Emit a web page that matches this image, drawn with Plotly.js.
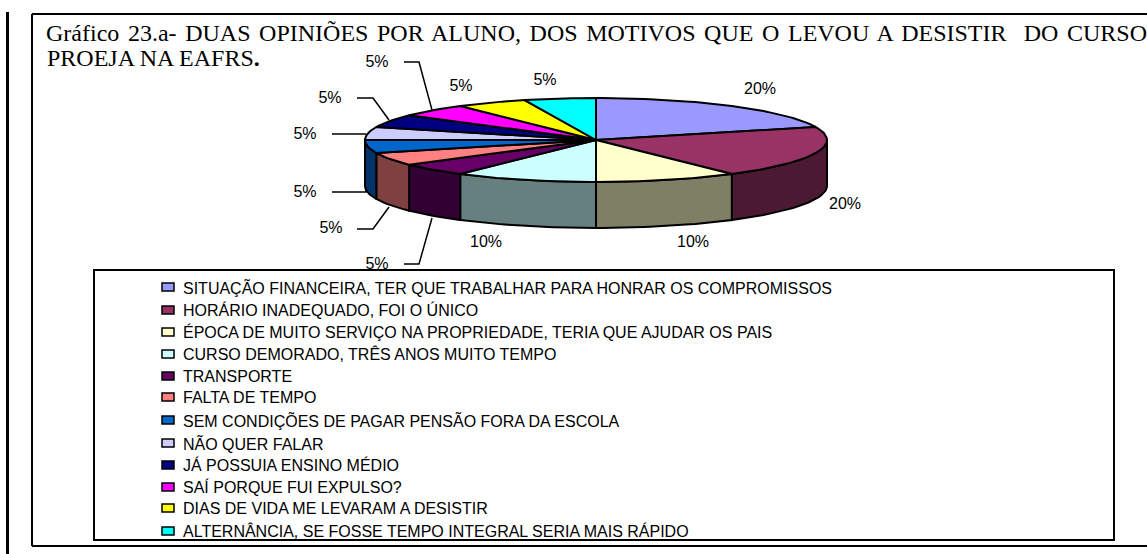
<!DOCTYPE html>
<html><head><meta charset="utf-8">
<script src="https://cdn.plot.ly/plotly-3.0.1.min.js"></script>
<style>html,body{margin:0;padding:0;background:#fff;overflow:hidden}
.gtitle{word-spacing:2.6px}</style>
</head><body><div id="chart" style="width:1147px;height:554px"></div>
<script>
var categories = [
 "SITUAÇÃO FINANCEIRA, TER QUE TRABALHAR PARA HONRAR OS COMPROMISSOS",
 "HORÁRIO INADEQUADO, FOI O ÚNICO",
 "ÉPOCA DE MUITO SERVIÇO NA PROPRIEDADE, TERIA QUE AJUDAR OS PAIS",
 "CURSO DEMORADO, TRÊS ANOS MUITO TEMPO",
 "TRANSPORTE",
 "FALTA DE TEMPO",
 "SEM CONDIÇÕES DE PAGAR PENSÃO FORA DA ESCOLA",
 "NÃO QUER FALAR",
 "JÁ POSSUIA ENSINO MÉDIO",
 "SAÍ PORQUE FUI EXPULSO?",
 "DIAS DE VIDA ME LEVARAM A DESISTIR",
 "ALTERNÂNCIA, SE FOSSE TEMPO INTEGRAL SERIA MAIS RÁPIDO"
];
var values = [20,20,10,10,5,5,5,5,5,5,5,5];
var colors = ["#9999FF","#993366","#FFFFCC","#CCFFFF","#660066","#FF8080","#0066CC","#CCCCFF","#000080","#FF00FF","#FFFF00","#00FFFF"];
var labelX = [760,845,693,486,377,331,305,305,330,377,461,545];
var labelY = [90,205,243,243,265,229,193,135,99,63,87,81];
var legendRowY = [287,310,332,354,376,397,420,443,465,487,508,531];

var cx=596, cy=140, rx=231, ry=42, depth=46;
function px(a){return cx+rx*Math.sin(a*Math.PI/180);}
function py(a){return cy-ry*Math.cos(a*Math.PI/180);}
function dark(c){var n=parseInt(c.slice(1),16);
  return 'rgb('+((n>>16&255)>>1)+','+((n>>8&255)>>1)+','+((n&255)>>1)+')';}
function arc(a0,a1){var out=[],n=Math.max(2,Math.ceil((a1-a0)/1.5));
  for(var i=0;i<=n;i++)out.push(a0+(a1-a0)*i/n);return out;}

var total=values.reduce(function(s,v){return s+v;},0), run=0, traces=[], tops=[];
values.forEach(function(v,i){
  var a0=run/total*360, a1=(run+v)/total*360; run+=v;
  var w0=Math.max(a0,90), w1=Math.min(a1,270);
  if(w1>w0){
    var as=arc(w0,w1), xs=as.map(px), ys=as.map(py);
    var rev=as.slice().reverse();
    traces.push({type:'scatter',mode:'lines',fill:'toself',fillcolor:dark(colors[i]),
      x:xs.concat(rev.map(px),[xs[0]]),
      y:ys.concat(rev.map(function(a){return py(a)+depth;}),[ys[0]]),
      line:{color:'#000',width:2},hoverinfo:'skip',showlegend:false});
  }
  var t=arc(a0,a1);
  tops.push({type:'scatter',mode:'lines',fill:'toself',fillcolor:colors[i],name:categories[i],
    x:[cx].concat(t.map(px),[cx]), y:[cy].concat(t.map(py),[cy]),
    line:{color:'#000',width:2},showlegend:false,hoverinfo:'name'});
});
traces=traces.concat(tops);
traces.push({type:'scatter',mode:'text',x:labelX,y:labelY,
  text:values.map(function(v){return v+'%';}),textposition:'middle center',
  textfont:{family:'"Liberation Sans",Arial,sans-serif',size:16,color:'#000'},
  hoverinfo:'skip',showlegend:false,cliponaxis:false});

function line(x0,y0,x1,y1,w){return {type:'line',xref:'x',yref:'y',x0:x0,y0:y0,x1:x1,y1:y1,layer:'above',line:{color:'#000',width:w||2}};}
function leader(p){return {type:'path',xref:'x',yref:'y',path:p,layer:'above',line:{color:'#000',width:1.5}};}
var shapes=[
  line(7.5,12,7.5,554,3),
  line(32,14,1147,14,2), line(32,14,32,546,2), line(32,546,1147,546,2),
  leader('M404,62 L419,62 L432,110'),
  leader('M357,98 L373,98 L389,120'),
  leader('M332,134 L366,134'),
  leader('M332,192 L366,192 L366,189'),
  leader('M357,229 L373,229 L389,207'),
  leader('M404,264 L419,264 L432,218'),
  {type:'rect',xref:'x',yref:'y',x0:94,y0:270,x1:1114,y1:540,layer:'above',fillcolor:'#fff',line:{color:'#000',width:2}}
];
var annotations=[{xref:'x',yref:'y',x:45,y:58,xanchor:'left',yanchor:'middle',showarrow:false,align:'left',
  text:'PROEJA NA EAFRS<b>.</b>',font:{family:'"Liberation Serif","Times New Roman",serif',size:24,color:'#000'}}];
categories.forEach(function(c,i){
  var y=legendRowY[i];
  shapes.push({type:'rect',xref:'x',yref:'y',x0:162,x1:174,y0:y-4,y1:y+4,layer:'above',fillcolor:colors[i],line:{color:'#000',width:1.5}});
  annotations.push({xref:'x',yref:'y',x:181,y:y,xanchor:'left',yanchor:'middle',showarrow:false,text:c,
    font:{family:'"Liberation Sans",Arial,sans-serif',size:16,color:'#000'}});
});

var layout={width:1147,height:554,margin:{l:0,r:0,t:0,b:0},paper_bgcolor:'#fff',plot_bgcolor:'#fff',showlegend:false,
  title:{text:'Gráfico 23.a- DUAS OPINIÕES POR ALUNO, DOS MOTIVOS QUE O LEVOU A DESISTIR\u00A0 DO CURSO',
    x:46/1147,xanchor:'left',xref:'paper',y:1-33/554,yref:'paper',yanchor:'middle',
    font:{family:'"Liberation Serif","Times New Roman",serif',size:24,color:'#000'}},
  xaxis:{range:[0,1147],visible:false,fixedrange:true},
  yaxis:{range:[554,0],visible:false,fixedrange:true},
  shapes:shapes,annotations:annotations};
Plotly.newPlot('chart',traces,layout,{displayModeBar:false,responsive:false});
</script></body></html>
